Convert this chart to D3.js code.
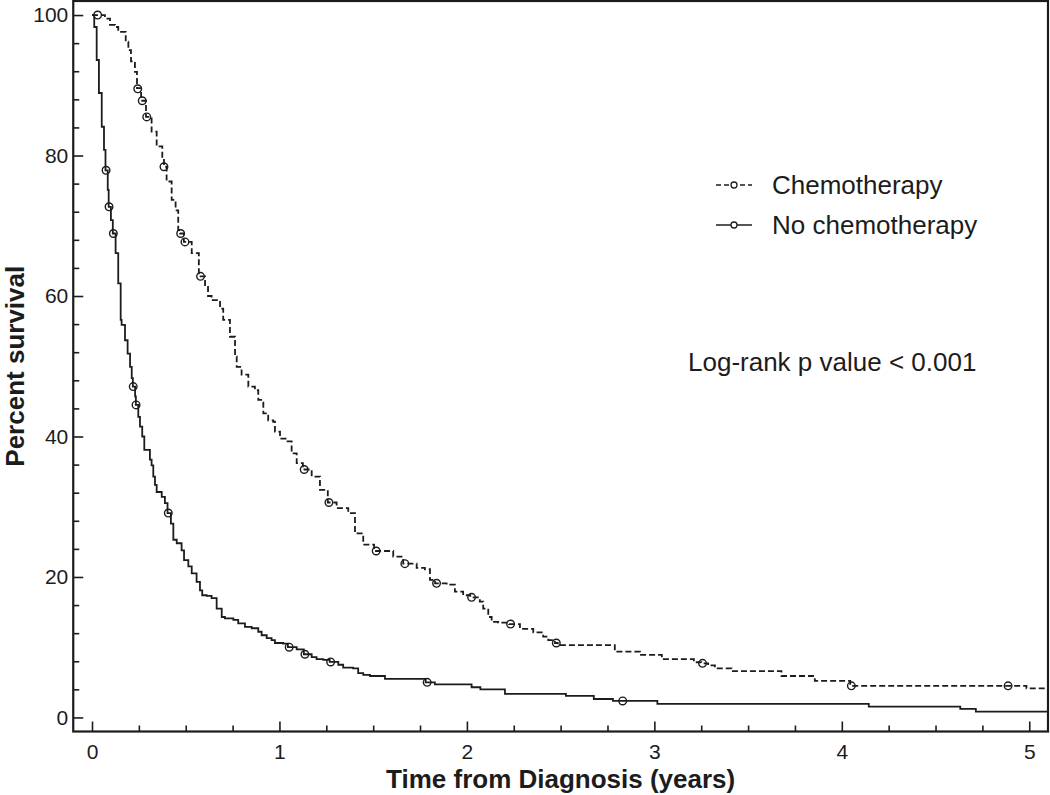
<!DOCTYPE html>
<html>
<head>
<meta charset="utf-8">
<script src="https://cdn.jsdelivr.net/npm/d3@7"></script>
<style>
  body { margin: 0; background: #fff; }
  svg { display: block; font-family: "Liberation Sans", Arial, sans-serif; }
</style>
</head>
<body>
<script>
// Kaplan-Meier curves (time in years, percent surviving)
const chemoTime = [0, 0.069, 0.096, 0.123, 0.140, 0.180, 0.194, 0.208, 0.229, 0.240, 0.262, 0.288, 0.318, 0.345, 0.375,
  0.384, 0.398, 0.425, 0.446, 0.460, 0.470, 0.490, 0.532, 0.570, 0.603, 0.619, 0.638, 0.683, 0.700, 0.736, 0.763,
  0.772, 0.798, 0.834, 0.869, 0.887, 0.914, 0.940, 0.967, 0.976, 1.003, 1.038, 1.065, 1.092, 1.125, 1.172, 1.216,
  1.258, 1.305, 1.367, 1.403, 1.447, 1.505, 1.607, 1.660, 1.732, 1.776, 1.803, 1.830, 1.892, 1.936, 1.980, 2.018,
  2.069, 2.087, 2.114, 2.132, 2.167, 2.225, 2.283, 2.354, 2.407, 2.434, 2.470, 2.485, 2.789, 2.923, 3.040, 3.211,
  3.250, 3.287, 3.323, 3.412, 3.678, 3.856, 4.045, 4.985]
const chemoSurv = [100, 99.5, 98.6, 98.3, 97.6, 96.2, 95.0, 93.4, 91.9, 89.6, 87.8, 85.5, 83.4, 81.3, 79.6,
  78.4, 76.3, 73.7, 72.2, 69.4, 68.9, 67.7, 66.1, 62.8, 61.3, 60.0, 59.4, 58.2, 56.6, 54.2, 51.4,
  49.9, 48.8, 47.1, 46.6, 45.2, 43.3, 42.3, 42.1, 40.7, 39.7, 39.3, 37.6, 36.2, 35.3, 34.3, 32.4,
  30.6, 29.8, 29.1, 26.2, 24.6, 23.7, 22.9, 21.9, 21.3, 21.1, 19.6, 19.1, 18.9, 17.9, 17.4, 17.1,
  16.5, 15.5, 14.3, 13.6, 13.5, 13.3, 12.6, 12.1, 11.5, 11.0, 10.6, 10.3, 9.37, 8.9, 8.3, 7.86,
  7.7, 7.4, 7.0, 6.6, 5.9, 5.2, 4.5, 4.15]
const chemoCensorTime = [0.03, 0.244, 0.268, 0.292, 0.384, 0.473, 0.496, 0.579, 1.132, 1.264, 1.516, 1.669, 1.838,
  2.025, 2.233, 2.477, 3.257, 4.051, 4.887]
const chemoCensorSurv = [100, 89.5, 87.8, 85.5, 78.4, 68.9, 67.7, 62.8, 35.3, 30.6, 23.7, 21.9, 19.1,
  17.1, 13.3, 10.6, 7.7, 4.5, 4.5]

const noChemoTime = [0, 0.012, 0.025, 0.037, 0.052, 0.064, 0.072, 0.084, 0.089, 0.101, 0.111, 0.126, 0.140, 0.153,
  0.158, 0.176, 0.190, 0.203, 0.212, 0.218, 0.230, 0.234, 0.247, 0.256, 0.268, 0.279, 0.309, 0.318, 0.327, 0.336,
  0.345, 0.372, 0.389, 0.403, 0.421, 0.434, 0.452, 0.478, 0.491, 0.514, 0.532, 0.558, 0.576, 0.588, 0.612, 0.638,
  0.665, 0.692, 0.709, 0.754, 0.780, 0.816, 0.852, 0.887, 0.905, 0.932, 0.958, 0.976, 1.020, 1.045, 1.092, 1.130,
  1.172, 1.198, 1.234, 1.268, 1.314, 1.340, 1.393, 1.420, 1.447, 1.483, 1.563, 1.780, 1.829, 2.025, 2.072, 2.203,
  2.528, 2.677, 2.779, 3.016, 4.144, 4.632, 4.715]
const noChemoSurv = [100, 98.3, 93.6, 88.9, 84.1, 80.8, 77.9, 75.1, 72.7, 70.8, 68.9, 66.1, 61.8, 56.6,
  55.9, 53.7, 51.8, 49.9, 48.3, 47.1, 45.7, 44.5, 42.8, 41.4, 40.0, 38.1, 36.7, 35.9, 34.3, 33.1,
  32.1, 31.4, 30.5, 29.1, 27.6, 25.3, 24.8, 23.8, 22.4, 21.5, 20.5, 19.3, 18.1, 17.4, 17.3, 17.0,
  15.5, 14.3, 14.1, 13.9, 13.4, 12.9, 12.7, 12.2, 11.7, 11.3, 11.0, 10.6, 10.5, 10.0, 9.7, 9.0,
  8.6, 8.3, 8.2, 7.9, 7.5, 7.1, 7.0, 6.3, 6.05, 5.9, 5.5, 5.0, 4.7, 4.3, 4.0, 3.35,
  3.06, 2.63, 2.35, 1.92, 1.54, 1.21, 0.83]
const noChemoCensorTime = [0.075, 0.091, 0.114, 0.220, 0.235, 0.407, 1.052, 1.136, 1.273, 1.788, 2.831]
const noChemoCensorSurv = [77.9, 72.7, 68.9, 47.1, 44.5, 29.1, 10.0, 9.0, 7.9, 5.0, 2.35]

const xTicks = [0, 1, 2, 3, 4, 5]
const xMinorTicks = [0.25, 0.5, 0.75, 1.25, 1.5, 1.75, 2.25, 2.5, 2.75, 3.25, 3.5, 3.75, 4.25, 4.5, 4.75]
const yTicks = [0, 20, 40, 60, 80, 100]
const yMinorTicks = [4, 8, 12, 16, 24, 28, 32, 36, 44, 48, 52, 56, 64, 68, 72, 76, 84, 88, 92, 96]

const legendLabels = ["Chemotherapy", "No chemotherapy"]
const pValueText = "Log-rank p value < 0.001"

var w = 1050
var h = 795
var margin = {top: 1, right: 2, bottom: 63.5, left: 73.25}
var ink = "#1c1c1c"

var svg = d3.select("body")
            .append("svg")
            .attr("width", w)
            .attr("height", h)

const xScale = d3.scaleLinear()
  .domain([-0.1, 5.1])
  .range([margin.left, w - margin.right])

const yScale = d3.scaleLinear()
  .domain([-2, 102])
  .range([h - margin.bottom, margin.top])

// clip so curves stop at the frame
svg.append("clipPath").attr("id", "plot")
  .append("rect")
  .attr("x", xScale(-0.1)).attr("y", yScale(102))
  .attr("width", xScale(5.1) - xScale(-0.1))
  .attr("height", yScale(-2) - yScale(102))

// axes: ticks point inward
function styleAxis(g) {
  g.select(".domain").remove()
  g.selectAll("line").attr("stroke", ink).attr("stroke-width", 1.6)
  g.selectAll("text").attr("fill", ink).attr("font-size", 21)
}

svg.append("g")
  .attr("transform", "translate(0," + yScale(-2) + ")")
  .call(d3.axisBottom(xScale).tickValues(xTicks).tickSize(-10).tickPadding(13).tickFormat(d3.format("d")))
  .call(styleAxis)
svg.append("g")
  .attr("transform", "translate(0," + yScale(-2) + ")")
  .call(d3.axisBottom(xScale).tickValues(xMinorTicks).tickSize(-6).tickFormat(""))
  .call(styleAxis)

svg.append("g")
  .attr("transform", "translate(" + xScale(-0.1) + ",0)")
  .call(d3.axisLeft(yScale).tickValues(yTicks).tickSize(-10).tickPadding(5))
  .call(styleAxis)
svg.append("g")
  .attr("transform", "translate(" + xScale(-0.1) + ",0)")
  .call(d3.axisLeft(yScale).tickValues(yMinorTicks).tickSize(-6).tickFormat(""))
  .call(styleAxis)

// frame
svg.append("rect")
  .attr("x", xScale(-0.1))
  .attr("y", yScale(102))
  .attr("width", xScale(5.1) - xScale(-0.1))
  .attr("height", yScale(-2) - yScale(102))
  .attr("fill", "none")
  .attr("stroke", ink)
  .attr("stroke-width", 2.2)

// survival curves
const stepLine = d3.line()
  .x(d => xScale(d[0]))
  .y(d => yScale(d[1]))
  .curve(d3.curveStepAfter)

function curvePoints(times, surv) {
  var pts = times.map((t, i) => [t, surv[i]])
  pts.push([xScale.domain()[1], surv[surv.length - 1]])
  return pts
}

var plot = svg.append("g").attr("clip-path", "url(#plot)")

plot.append("path")
  .attr("d", stepLine(curvePoints(noChemoTime, noChemoSurv)))
  .attr("fill", "none")
  .attr("stroke", ink)
  .attr("stroke-width", 1.8)

plot.append("path")
  .attr("d", stepLine(curvePoints(chemoTime, chemoSurv)))
  .attr("fill", "none")
  .attr("stroke", ink)
  .attr("stroke-width", 1.8)
  .attr("stroke-dasharray", "6,3")

// censor marks
function censors(times, surv) {
  plot.selectAll(null)
    .data(times.map((t, i) => [t, surv[i]]))
    .enter()
    .append("circle")
    .attr("cx", d => xScale(d[0]))
    .attr("cy", d => yScale(d[1]))
    .attr("r", 3.8)
    .attr("fill", "none")
    .attr("stroke", ink)
    .attr("stroke-width", 1.4)
}
censors(chemoCensorTime, chemoCensorSurv)
censors(noChemoCensorTime, noChemoCensorSurv)

// legend
var legend = svg.append("g").attr("transform", "translate(716,185)")
legendLabels.forEach((label, i) => {
  var row = legend.append("g").attr("transform", "translate(0," + i * 40 + ")")
  row.append("line")
    .attr("x1", 0).attr("x2", 36)
    .attr("stroke", ink).attr("stroke-width", 1.6)
    .attr("stroke-dasharray", i == 0 ? "5,3" : null)
  row.append("circle")
    .attr("cx", 18).attr("r", 3)
    .attr("fill", "#fff").attr("stroke", ink).attr("stroke-width", 1.3)
  row.append("text")
    .attr("x", 56).attr("y", 9)
    .attr("font-size", 26)
    .attr("fill", ink)
    .text(label)
})

svg.append("text")
  .attr("x", 688).attr("y", 371)
  .attr("font-size", 26)
  .attr("fill", ink)
  .text(pValueText)

// axis titles
svg.append("text")
  .attr("x", (xScale(-0.1) + xScale(5.1)) / 2)
  .attr("y", 788)
  .attr("text-anchor", "middle")
  .attr("font-size", 26)
  .attr("font-weight", "bold")
  .attr("fill", ink)
  .text("Time from Diagnosis (years)")

svg.append("text")
  .attr("transform", "translate(24," + (yScale(-2) + yScale(102)) / 2 + ") rotate(-90)")
  .attr("text-anchor", "middle")
  .attr("font-size", 26)
  .attr("font-weight", "bold")
  .attr("fill", ink)
  .text("Percent survival")
</script>
</body>
</html>
